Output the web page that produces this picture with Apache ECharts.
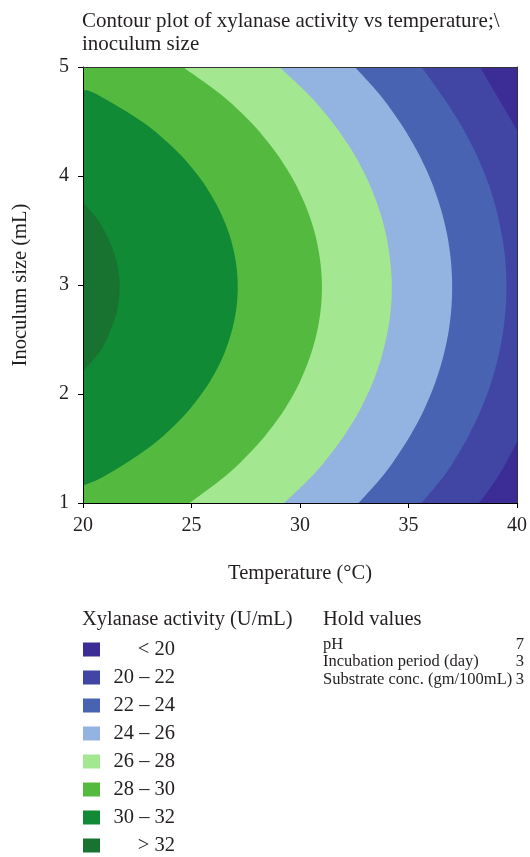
<!DOCTYPE html>
<html><head><meta charset="utf-8">
<script src="https://cdn.jsdelivr.net/npm/echarts@6/dist/echarts.min.js"></script>
<style>html,body{margin:0;padding:0;background:#fff}#c{width:530px;height:857px}</style>
</head><body><div id="c"></div>
<script>
// ---- text ----
const chartTitle = 'Contour plot of xylanase activity vs temperature;\\\ninoculum size';
const xName = 'Temperature (°C)';
const yName = 'Inoculum size (mL)';
const xTicks = [20, 25, 30, 35, 40];
const yTicks = [1, 2, 3, 4, 5];
const legendTitle = 'Xylanase activity (U/mL)';
const bandNames = ['< 20', '20 – 22', '22 – 24', '24 – 26', '26 – 28', '28 – 30', '30 – 32', '> 32'];
const holdTitle = 'Hold values';
const holdLabels = ['pH', 'Incubation period (day)', 'Substrate conc. (gm/100mL)'];
const holdValues = ['7', '3', '3'];

// ---- contour boundaries, [temperature, inoculum], read top -> bottom ----
const contourMax = [[40, 5], [40, 1]];
const contour20 = [[38.3, 5], [39.03, 4.75], [39.77, 4.5], [40, 4.42], [40, 1.56], [39.15, 1.25], [38.25, 1]];
const contour22 = [[35.6, 5], [36.5, 4.75], [37.32, 4.5], [38.0, 4.25], [38.55, 4.0], [38.97, 3.75], [39.26, 3.5], [39.45, 3.25], [39.51, 3.0], [39.46, 2.75], [39.3, 2.5], [39.02, 2.25], [38.63, 2.0], [38.1, 1.75], [37.44, 1.5], [36.64, 1.25], [35.6, 1]];
const contour24 = [[32.53, 5], [33.66, 4.75], [34.58, 4.5], [35.34, 4.25], [35.95, 4.0], [36.41, 3.75], [36.74, 3.5], [36.94, 3.25], [37.01, 3.0], [36.96, 2.75], [36.78, 2.5], [36.47, 2.25], [36.03, 2.0], [35.45, 1.75], [34.71, 1.5], [33.82, 1.25], [32.7, 1]];
const contour26 = [[29.05, 5], [30.38, 4.75], [31.46, 4.5], [32.34, 4.25], [33.03, 4.0], [33.55, 3.75], [33.92, 3.5], [34.14, 3.25], [34.23, 3.0], [34.17, 2.75], [33.96, 2.5], [33.62, 2.25], [33.12, 2.0], [32.46, 1.75], [31.61, 1.5], [30.57, 1.25], [29.27, 1]];
const contour28 = [[24.6, 5], [26.34, 4.75], [27.7, 4.5], [28.76, 4.25], [29.59, 4.0], [30.21, 3.75], [30.65, 3.5], [30.91, 3.25], [31.01, 3.0], [30.94, 2.75], [30.7, 2.5], [30.29, 2.25], [29.71, 2.0], [28.91, 1.75], [27.88, 1.5], [26.58, 1.25], [24.91, 1]];
const contour30 = [[20, 4.79], [20.63, 4.75], [22.71, 4.5], [24.21, 4.25], [25.32, 4.0], [26.12, 3.75], [26.68, 3.5], [27.01, 3.25], [27.13, 3.0], [27.04, 2.75], [26.74, 2.5], [26.23, 2.25], [25.46, 2.0], [24.41, 1.75], [22.98, 1.5], [21.02, 1.25], [20, 1.16]];
const contour32 = [[20, 3.75], [20.48, 3.65], [20.98, 3.5], [21.5, 3.25], [21.69, 3.0], [21.55, 2.75], [21.09, 2.5], [20.63, 2.35], [20, 2.21]];
const boundaries = [contourMax, contour20, contour22, contour24, contour26, contour28, contour30, contour32];

const bandColors = ['#3b2d95', '#4146a5', '#4863b1', '#93b3e0', '#a3e891', '#54ba3f', '#108a35', '#187331'];

const FONT = 'Liberation Serif';
const TXT = '#231f20';

function splineRun(p) {
  const out = [];
  const n = p.length;
  if (n < 3) return p.slice();
  for (let i = 0; i < n - 1; i++) {
    const p0 = p[Math.max(i - 1, 0)], p1 = p[i], p2 = p[i + 1], p3 = p[Math.min(i + 2, n - 1)];
    for (let k = 0; k < 12; k++) {
      const t = k / 12, t2 = t * t, t3 = t2 * t;
      const f = (a, b, c, d) => 0.5 * ((2 * b) + (-a + c) * t + (2 * a - 5 * b + 4 * c - d) * t2 + (-a + 3 * b - 3 * c + d) * t3);
      out.push([f(p0[0], p1[0], p2[0], p3[0]), f(p0[1], p1[1], p2[1], p3[1])]);
    }
  }
  out.push(p[n - 1]);
  return out;
}
// smooth each run of the boundary, but keep straight any piece that runs along the plot's right edge
function smoothPts(p, xRight) {
  const runs = [[p[0]]];
  for (let i = 1; i < p.length; i++) {
    const onEdge = Math.abs(p[i][0] - xRight) < 0.5 && Math.abs(p[i - 1][0] - xRight) < 0.5;
    if (onEdge) runs.push([p[i]]); else runs[runs.length - 1].push(p[i]);
  }
  let out = [];
  runs.forEach(r => { out = out.concat(splineRun(r)); });
  return out;
}

const chart = echarts.init(document.getElementById('c'), null, { renderer: 'canvas' });

const series = bandNames.map((name, i) => ({
  type: 'custom',
  name: name,
  coordinateSystem: 'cartesian2d',
  clip: true,
  silent: true,
  itemStyle: { color: bandColors[i] },
  data: boundaries[i],
  renderItem: function (params, api) {
    if (params.dataIndexInside !== 0) return null;
    const n = params.dataInsideLength;
    const pts = [];
    for (let j = 0; j < n; j++) pts.push(api.coord([api.value(0, j), api.value(1, j)]));
    const xl = api.coord([xTicks[0], yTicks[0]])[0];
    const xr = api.coord([xTicks[xTicks.length - 1], yTicks[0]])[0];
    const poly = [[xl, pts[0][1]]].concat(smoothPts(pts, xr), [[xl, pts[n - 1][1]]]);
    return { type: 'polygon', shape: { points: poly }, style: { fill: api.visual('color') } };
  }
}));

const graphics = [];
holdLabels.forEach((lab, i) => {
  graphics.push({ type: 'text', left: 323, top: 636 + i * 17.5, style: { text: lab, font: '16.5px "' + FONT + '"', fill: TXT } });
  graphics.push({ type: 'text', right: 6, top: 636 + i * 17.5, style: { text: holdValues[i], font: '16.5px "' + FONT + '"', fill: TXT } });
});

chart.setOption({
  animation: false,
  backgroundColor: '#fff',
  title: [
    { text: chartTitle, left: 82, top: 10, padding: 0, textStyle: { fontFamily: FONT, fontSize: 21, fontWeight: 'normal', color: TXT, lineHeight: 23 } },
    { text: legendTitle, left: 82, top: 609, padding: 0, textStyle: { fontFamily: FONT, fontSize: 20.5, fontWeight: 'normal', color: TXT } },
    { text: holdTitle, left: 323, top: 609, padding: 0, textStyle: { fontFamily: FONT, fontSize: 20.5, fontWeight: 'normal', color: TXT } }
  ],
  grid: { left: 83, right: 12, top: 67, bottom: 354, containLabel: false },
  xAxis: [{
    type: 'value', min: xTicks[0], max: xTicks[xTicks.length - 1], interval: 5, z: 10,
    name: xName, nameLocation: 'middle', nameGap: 60,
    nameTextStyle: { fontFamily: FONT, fontSize: 20.5, color: TXT },
    axisLine: { show: true, lineStyle: { color: '#000', width: 1 } },
    axisTick: { show: true, length: 5, lineStyle: { color: '#000' } },
    axisLabel: { margin: 13, fontFamily: FONT, fontSize: 20, color: TXT },
    splitLine: { show: false }
  }, {
    type: 'value', position: 'top', min: xTicks[0], max: xTicks[xTicks.length - 1], z: 10,
    axisLine: { show: true, lineStyle: { color: '#333', width: 1 } },
    axisTick: { show: false }, axisLabel: { show: false }, splitLine: { show: false }
  }],
  yAxis: [{
    type: 'value', min: yTicks[0], max: yTicks[yTicks.length - 1], interval: 1, z: 10,
    name: yName, nameLocation: 'middle', nameGap: 52, nameRotate: 90,
    nameTextStyle: { fontFamily: FONT, fontSize: 20.5, color: TXT },
    axisLine: { show: true, lineStyle: { color: '#000', width: 1 } },
    axisTick: { show: true, length: 5, lineStyle: { color: '#000' } },
    axisLabel: { margin: 14, fontFamily: FONT, fontSize: 20, color: TXT },
    splitLine: { show: false }
  }, {
    type: 'value', position: 'right', min: yTicks[0], max: yTicks[yTicks.length - 1], z: 10,
    axisLine: { show: true, lineStyle: { color: '#333', width: 1 } },
    axisTick: { show: false }, axisLabel: { show: false }, splitLine: { show: false }
  }],
  legend: {
    data: bandNames, orient: 'vertical', left: 83, top: 639, height: 260, padding: 0,
    icon: 'rect', itemWidth: 17, itemHeight: 14, itemGap: 7, selectedMode: false,
    formatter: function (name) { return '{r|' + name + '}'; },
    textStyle: {
      fontFamily: FONT, fontSize: 20.5, color: TXT,
      rich: { r: { width: 70, align: 'right', fontFamily: FONT, fontSize: 20.5, color: TXT } }
    }
  },
  graphic: graphics,
  series: series
});
</script></body></html>
